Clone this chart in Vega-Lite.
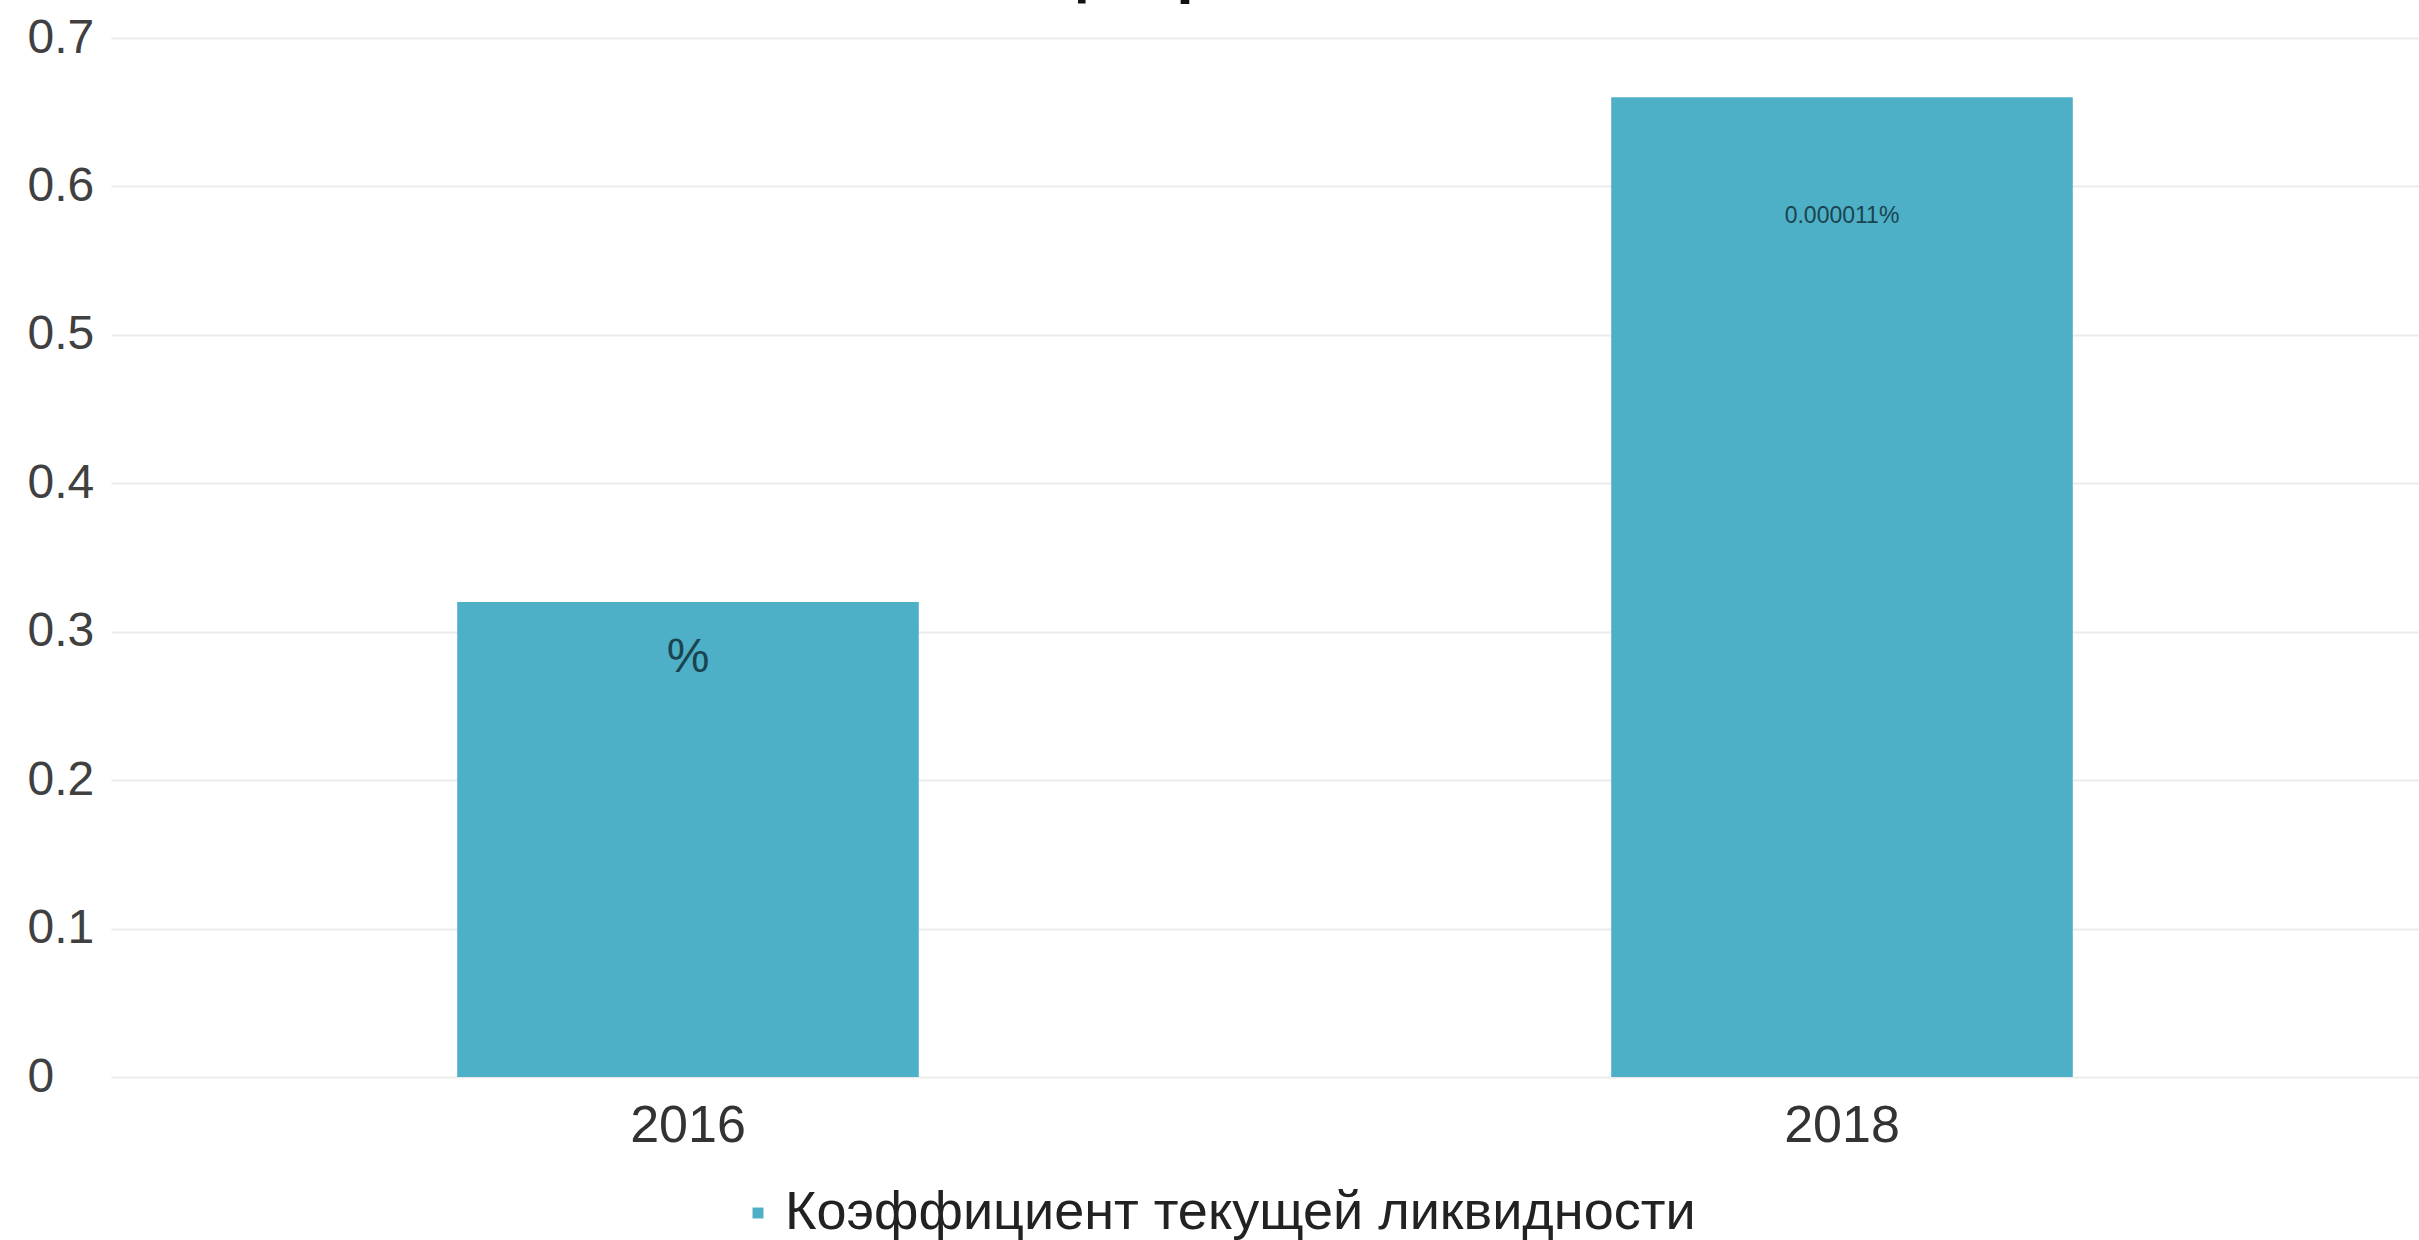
{
  "$schema": "https://vega.github.io/schema/vega-lite/v6.json",
  "width": 2308,
  "height": 1039,
  "autosize": {"type": "none"},
  "padding": {"left": 111, "top": 38, "right": 0, "bottom": 163},
  "background": "#ffffff",
  "config": {
    "view": {"stroke": null},
    "font": "Liberation Sans"
  },
  "title": {
    "text": "Общая рентабельность",
    "frame": "group",
    "anchor": "middle",
    "baseline": "alphabetic",
    "offset": -40,
    "dx": 51,
    "fontSize": 63,
    "fontWeight": "bold",
    "color": "#111111",
    "font": "Liberation Sans"
  },
  "data": {
    "values": [
      {"year": "2016", "value": 0.32, "label": "%", "series": "Коэффициент текущей ликвидности"},
      {"year": "2018", "value": 0.66, "label": "0.000011%", "series": "Коэффициент текущей ликвидности"}
    ]
  },
  "encoding": {
    "x": {
      "field": "year",
      "type": "nominal",
      "title": null,
      "scale": {"paddingInner": 0.6, "paddingOuter": 0.3},
      "axis": {
        "domain": false,
        "ticks": false,
        "labelAngle": 0,
        "labelFontSize": 52,
        "labelColor": "#333333",
        "labelPadding": 23,
        "labelFont": "Liberation Sans"
      }
    },
    "y": {
      "field": "value",
      "type": "quantitative",
      "title": null,
      "scale": {"domain": [0, 0.7], "nice": false},
      "axis": {
        "values": [0, 0.1, 0.2, 0.3, 0.4, 0.5, 0.6, 0.7],
        "format": ".1~f",
        "domain": false,
        "ticks": false,
        "labelAlign": "left",
        "labelPadding": 84,
        "labelFontSize": 48,
        "labelColor": "#404040",
        "labelFont": "Liberation Sans",
        "gridColor": "#ebebeb",
        "gridWidth": 2
      }
    }
  },
  "layer": [
    {
      "mark": {"type": "bar"},
      "encoding": {
        "color": {
          "field": "series",
          "type": "nominal",
          "scale": {"range": ["#4EB0C6"]},
          "legend": {
            "title": null,
            "orient": "none",
            "legendX": 620,
            "legendY": 1148,
            "direction": "horizontal",
            "symbolType": "square",
            "symbolSize": 120,
            "symbolStrokeWidth": 0,
            "labelFontSize": 54,
            "labelColor": "#222222",
            "labelFont": "Liberation Sans",
            "labelOffset": 0,
            "labelLimit": 2000
          }
        }
      }
    },
    {
      "transform": [{"filter": "datum.year === '2016'"}],
      "mark": {"type": "text", "baseline": "middle", "align": "center", "dy": 56, "fontSize": 48, "color": "#1a4450"},
      "encoding": {"text": {"field": "label"}}
    },
    {
      "transform": [{"filter": "datum.year === '2018'"}],
      "mark": {"type": "text", "baseline": "middle", "align": "center", "dy": 119, "fontSize": 23, "color": "#1a4450"},
      "encoding": {"text": {"field": "label"}}
    }
  ]
}
